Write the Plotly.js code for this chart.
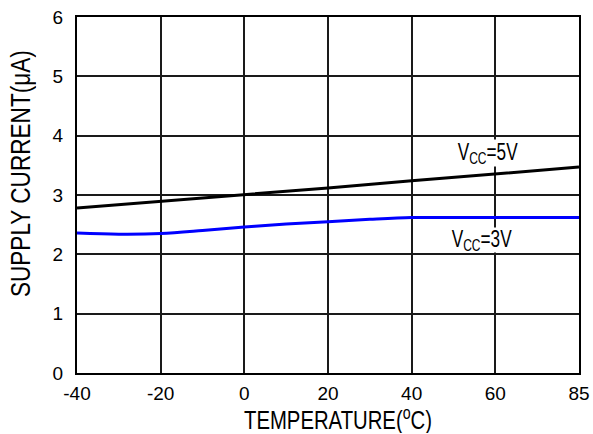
<!DOCTYPE html>
<html>
<head>
<meta charset="utf-8">
<script src="https://cdn.plot.ly/plotly-3.0.1.min.js"></script>
<style>html,body{margin:0;padding:0;background:#fff;}#chart{width:593px;height:434px;}</style>
</head>
<body>
<div id="chart"></div>
<script>
// Temperature axis positions (last tick is labelled 85 in the original)
const tickPositions = [-40, -20, 0, 20, 40, 60, 80];
const tickLabels = ['-40', '-20', '0', '20', '40', '60', '85'];
const currentTicks = [0, 1, 2, 3, 4, 5, 6];

// VCC = 5V series
const temp5V = [-40, -20, 0, 20, 40, 60, 80];
const current5V = [2.78, 2.89, 3.0, 3.12, 3.24, 3.36, 3.47];

// VCC = 3V series
const temp3V = [-40, -30, -20, -10, 0, 10, 20, 30, 40, 50, 60, 70, 80];
const current3V = [2.36, 2.34, 2.35, 2.40, 2.46, 2.51, 2.55, 2.59, 2.62, 2.62, 2.62, 2.62, 2.62];

const xTitle = 'TEMPERATURE(<sup>o</sup>C)';
const yTitle = 'SUPPLY CURRENT(μA)';
const label5V = 'V<sub>CC</sub>=5V';
const label3V = 'V<sub>CC</sub>=3V';

const regular = 'Liberation Sans, Arial, sans-serif';

const traces = [
  {x: temp5V, y: current5V, mode: 'lines', name: 'VCC=5V',
   line: {color: '#000000', width: 3}},
  {x: temp3V, y: current3V, mode: 'lines', name: 'VCC=3V',
   line: {color: '#0000ff', width: 3, shape: 'spline', smoothing: 1}}
];

const layout = {
  width: 593, height: 434,
  margin: {l: 77, r: 14, t: 17, b: 61},
  paper_bgcolor: '#ffffff', plot_bgcolor: '#ffffff',
  showlegend: false,
  font: {family: regular, size: 18, color: '#000'},
  xaxis: {
    range: [-40, 80], tickmode: 'array', tickvals: tickPositions, ticktext: tickLabels,
    showgrid: true, gridcolor: '#1a1a1a', gridwidth: 2,
    showline: true, linecolor: '#000', linewidth: 2, mirror: true,
    zeroline: false, ticks: '', ticklabelstandoff: 2,
    tickfont: {family: regular, size: 19, color: '#000'}
  },
  yaxis: {
    range: [0, 6], tickmode: 'array', tickvals: currentTicks,
    showgrid: true, gridcolor: '#1a1a1a', gridwidth: 2,
    showline: true, linecolor: '#000', linewidth: 2, mirror: true,
    zeroline: false, ticks: '', ticklabelstandoff: 8,
    tickfont: {family: regular, size: 19, color: '#000'}
  },
  annotations: [
    {x: 0.52, y: -0.129, xref: 'paper', yref: 'paper', text: xTitle, showarrow: false,
     width: 192, height: 28, borderpad: 0,
     xanchor: 'center', yanchor: 'middle', font: {family: regular, size: 26, color: '#000'}},
    {x: -0.1116, y: 0.56, xref: 'paper', yref: 'paper', text: yTitle, showarrow: false,
     width: 250, height: 30, borderpad: 0,
     textangle: -90, xanchor: 'center', yanchor: 'middle', font: {family: regular, size: 27, color: '#000'}},
    {x: 58.3, y: 3.71, xref: 'x', yref: 'y', text: label5V, showarrow: false,
     width: 62, height: 26, borderpad: 0,
     bgcolor: '#ffffff', font: {family: regular, size: 23, color: '#000'}},
    {x: 56.9, y: 2.24, xref: 'x', yref: 'y', text: label3V, showarrow: false,
     width: 62, height: 24, borderpad: 0,
     bgcolor: '#ffffff', font: {family: regular, size: 23, color: '#000'}}
  ]
};

// condensed look of the original lettering: target widths in px per annotation
const condensedWidths = [188, 247, 60, 60];

Plotly.newPlot('chart', traces, layout, {displayModeBar: false, staticPlot: true}).then(function (gd) {
  const texts = gd.querySelectorAll('.annotation-text');
  texts.forEach(function (t, i) {
    if (condensedWidths[i]) {
      t.setAttribute('textLength', condensedWidths[i]);
      t.setAttribute('lengthAdjust', 'spacingAndGlyphs');
    }
  });
});
</script>
</body>
</html>
